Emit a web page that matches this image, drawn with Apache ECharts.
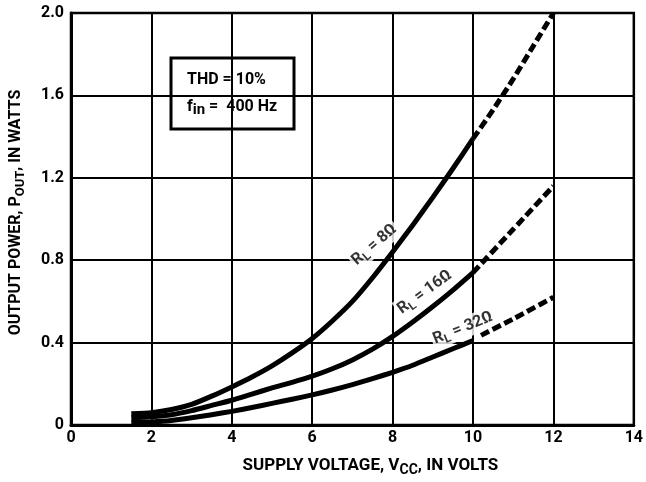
<!DOCTYPE html>
<html>
<head>
<meta charset="utf-8">
<script src="https://cdn.jsdelivr.net/npm/echarts@6/dist/echarts.min.js"></script>
<style>
html,body{margin:0;padding:0;background:#fff;}
#c{width:646px;height:482px;}
</style>
</head>
<body>
<div id="c"></div>
<script>
// ---- data ----
const xTicks = [0, 2, 4, 6, 8, 10, 12, 14];
const yTicks = [0, 0.4, 0.8, 1.2, 1.6, 2.0];

const voltsSolid = [1.5, 2, 2.5, 3, 3.5, 4, 4.5, 5, 5.5, 6, 6.5, 7, 7.5, 8, 8.5, 9, 9.5, 10];
const p8Solid  = [0.055, 0.06, 0.075, 0.10, 0.14, 0.185, 0.233, 0.287, 0.35, 0.42, 0.505, 0.60, 0.715, 0.84, 0.97, 1.105, 1.245, 1.39];
const p16Solid = [0.035, 0.04, 0.05, 0.07, 0.095, 0.12, 0.15, 0.18, 0.207, 0.237, 0.273, 0.316, 0.368, 0.43, 0.50, 0.575, 0.655, 0.74];
const p32Solid = [0.012, 0.015, 0.022, 0.035, 0.05, 0.066, 0.085, 0.105, 0.125, 0.146, 0.17, 0.196, 0.225, 0.256, 0.29, 0.33, 0.37, 0.41];

const volts8Dash = [10, 10.5, 11, 11.5, 12];
const p8Dash     = [1.39, 1.53, 1.68, 1.84, 2.0];
const volts16Dash = [10, 11, 12];
const p16Dash     = [0.74, 0.95, 1.16];
const volts32Dash = [10.2, 11, 12];
const p32Dash     = [0.435, 0.515, 0.62];

const curveLabels = ['{r|R}{s|L}{r| = 8Ω}', '{r|R}{s|L}{r| = 16Ω}', '{r|R}{s|L}{r| = 32Ω}'];
const labelVolts  = [7.55, 8.8, 9.75];
const labelPower  = [0.875, 0.645, 0.47];
const labelAngle  = [41, 36, 22];

const FONT = "Roboto,'Liberation Sans',sans-serif";

function pairs(xs, ys){ return xs.map((x,i)=>[x, ys[i]]); }

const chart = echarts.init(document.getElementById('c'), null, {renderer:'canvas'});

const solidStyle = {color:'#000', width:5, cap:'butt', join:'round'};
const dashStyle  = {color:'#000', width:5, type:[9,4], cap:'butt'};

function lineSeries(data, style){
  return {type:'line', data:data, showSymbol:false, symbol:'none', smooth:0.2,
          lineStyle:style, silent:true, z:4, animation:false};
}

const labelData = labelVolts.map((v,i)=>({
  value:[v, labelPower[i]],
  label:{
    show:true, position:'inside', rotate:labelAngle[i], formatter:curveLabels[i],
    backgroundColor:'#fff', padding:[0,2,0,2],
    rich:{
      r:{fontFamily:FONT, fontSize:16, color:'#000', fontWeight:'bold'},
      s:{fontFamily:FONT, fontSize:12, color:'#000', fontWeight:'bold', padding:[9,0,0,0]}
    }
  }
}));

chart.setOption({
  animation:false,
  backgroundColor:'#fff',
  grid:{left:68, right:8, top:13, bottom:55, show:true, borderColor:'#000', borderWidth:2.5, backgroundColor:'transparent'},
  xAxis:{
    type:'value', min:0, max:14, interval:2,
    axisLine:{show:true, lineStyle:{color:'#000', width:3}},
    axisTick:{show:false},
    splitLine:{show:true, lineStyle:{color:'#000', width:2}},
    axisLabel:{color:'#000', fontFamily:FONT, fontSize:16, fontWeight:'bold', margin:5,
               formatter:(v)=> xTicks.includes(v) ? String(v) : ''},
    name:'{a|SUPPLY VOLTAGE, V}{s|CC}{a|, IN VOLTS}',
    nameLocation:'middle', nameGap:29,
    nameTextStyle:{padding:[0,0,0,36], rich:{
      a:{fontFamily:FONT, fontSize:17, color:'#000', fontWeight:'bold'},
      s:{fontFamily:FONT, fontSize:14, color:'#000', fontWeight:'bold', padding:[9,0,0,0]}
    }}
  },
  yAxis:{
    type:'value', min:0, max:2, interval:0.4,
    axisLine:{show:true, lineStyle:{color:'#000', width:3}},
    axisTick:{show:false},
    splitLine:{show:true, lineStyle:{color:'#000', width:2}},
    axisLabel:{color:'#000', fontFamily:FONT, fontSize:16, fontWeight:'bold', margin:7,
               formatter:(v)=>{ const t = yTicks.find(k=>Math.abs(k-v)<1e-9); return t===undefined?'':(t===0?'0':t.toFixed(1)); }},
    name:'{a|OUTPUT POWER, P}{s|OUT}{a|, IN WATTS}',
    nameLocation:'middle', nameGap:44, nameRotate:90,
    nameTextStyle:{padding:[0,0,0,13], rich:{
      a:{fontFamily:FONT, fontSize:16, color:'#000', fontWeight:'bold'},
      s:{fontFamily:FONT, fontSize:13, color:'#000', fontWeight:'bold', padding:[9,0,0,0]}
    }}
  },
  series:[
    lineSeries(pairs(voltsSolid, p8Solid), solidStyle),
    lineSeries(pairs(voltsSolid, p16Solid), solidStyle),
    lineSeries(pairs(voltsSolid, p32Solid), solidStyle),
    lineSeries(pairs(volts8Dash, p8Dash), dashStyle),
    lineSeries(pairs(volts16Dash, p16Dash), dashStyle),
    lineSeries(pairs(volts32Dash, p32Dash), dashStyle),
    {type:'scatter', data:labelData, symbolSize:0, z:2, silent:true, animation:false}
  ],
  graphic:[
    {type:'group', z:10, children:[
      {type:'rect', shape:{x:171, y:58, width:123, height:71}, style:{fill:'#fff', stroke:'#000', lineWidth:3}},
      {type:'text', x:187, y:72, style:{text:'THD = 10%', font:'bold 16px '+FONT, fill:'#000'}},
      {type:'text', x:187, y:95, style:{
        text:'{a|f}{s|in}{a| =  400 Hz}',
        rich:{
          a:{fontFamily:FONT, fontSize:16, fontWeight:'bold', fill:'#000', color:'#000'},
          s:{fontFamily:FONT, fontSize:15, fontWeight:'bold', fill:'#000', color:'#000', padding:[8,0,0,0]}
        }
      }}
    ]}
  ]
});
</script>
</body>
</html>
